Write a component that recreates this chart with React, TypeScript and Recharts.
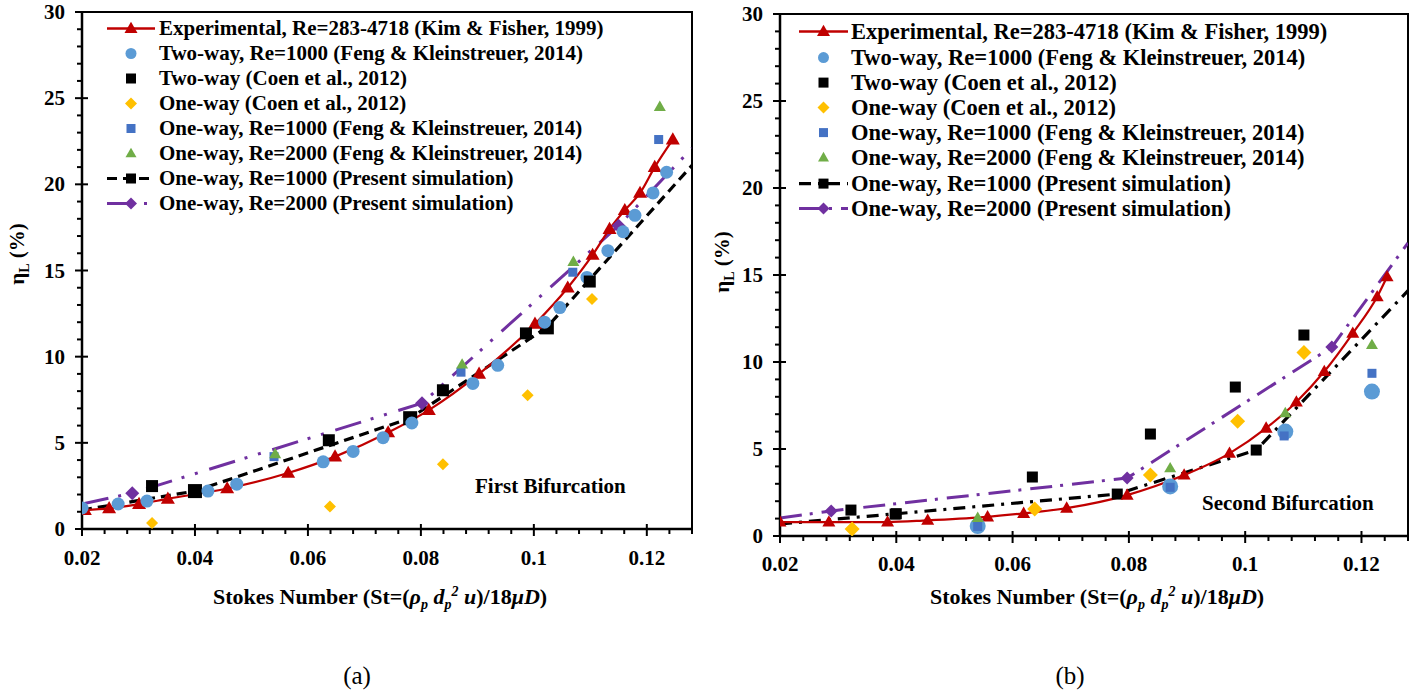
import React from "react";
import { ComposedChart, Line, Scatter, XAxis, YAxis, ReferenceArea } from "recharts";

const FONT = '"Liberation Serif", "Times New Roman", serif';

type Pt = [number, number];

// axes (shared by both panels)
const stDomain: [number, number] = [0.02, 0.128];
const stMajor = [0.02, 0.04, 0.06, 0.08, 0.1, 0.12];
const stLabels = ["0.02", "0.04", "0.06", "0.08", "0.1", "0.12"];
const etaMajor = [0, 5, 10, 15, 20, 25, 30];
const etaLabels = ["0", "5", "10", "15", "20", "25", "30"];
const stTicks = Array.from({ length: 28 }, (_, i) => Math.round((0.02 + i * 0.004) * 1000) / 1000);
const etaTicks = Array.from({ length: 31 }, (_, i) => i);

const legendLabels = [
  "Experimental, Re=283-4718 (Kim & Fisher, 1999)",
  "Two-way, Re=1000 (Feng & Kleinstreuer, 2014)",
  "Two-way (Coen et al., 2012)",
  "One-way (Coen et al., 2012)",
  "One-way, Re=1000 (Feng & Kleinstreuer, 2014)",
  "One-way, Re=2000 (Feng & Kleinstreuer, 2014)",
  "One-way, Re=1000 (Present simulation)",
  "One-way, Re=2000 (Present simulation)",
];

// (a) first bifurcation
const expA: Pt[] = [[0.0205, 1.1], [0.0248, 1.2], [0.0301, 1.45], [0.0352, 1.75], [0.0457, 2.35], [0.0565, 3.25], [0.0648, 4.2], [0.0742, 5.6], [0.0814, 6.9], [0.0903, 9.0], [0.1002, 11.9], [0.106, 14.0], [0.1104, 15.9], [0.1134, 17.4], [0.1161, 18.5], [0.1188, 19.5], [0.1214, 21.0], [0.1246, 22.6]];
const fengTwoWayA: Pt[] = [[0.02, 1.22], [0.0264, 1.45], [0.0315, 1.62], [0.0423, 2.2], [0.0474, 2.6], [0.0627, 3.9], [0.068, 4.5], [0.0733, 5.3], [0.0784, 6.15], [0.0892, 8.45], [0.0936, 9.5], [0.1019, 12.0], [0.1046, 12.85], [0.1094, 14.6], [0.1131, 16.15], [0.1158, 17.25], [0.1179, 18.2], [0.1211, 19.5], [0.1235, 20.7]];
const coenTwoWayA: Pt[] = [[0.0324, 2.49], [0.04, 2.2], [0.0637, 5.15], [0.0839, 8.05], [0.0986, 11.35], [0.1099, 14.36]];
const coenOneWayA: Pt[] = [[0.0324, 0.35], [0.0639, 1.3], [0.0839, 3.76], [0.0989, 7.76], [0.1103, 13.35]];
const fengOne1000A: Pt[] = [[0.054, 4.2], [0.0871, 9.1], [0.1069, 14.9], [0.1221, 22.6]];
const fengOne2000A: Pt[] = [[0.0542, 4.35], [0.0873, 9.55], [0.107, 15.5], [0.1223, 24.5]];
const curve1000A: Pt[] = [[0.02, 1.1], [0.04, 2.2], [0.0781, 6.43], [0.1023, 11.7], [0.128, 21.1]];
const sim1000A: Pt[] = [[0.04, 2.2], [0.0781, 6.43], [0.1023, 11.7]];
const curve2000A: Pt[] = [[0.02, 1.45], [0.0289, 2.08], [0.0802, 7.3], [0.115, 17.6], [0.128, 22.1]];
const sim2000A: Pt[] = [[0.0289, 2.08], [0.0802, 7.3], [0.115, 17.6]];

// (b) second bifurcation
const expB: Pt[] = [[0.02, 0.8], [0.0284, 0.8], [0.0385, 0.8], [0.0454, 0.9], [0.0557, 1.1], [0.0619, 1.3], [0.0693, 1.6], [0.0797, 2.35], [0.0895, 3.5], [0.0973, 4.75], [0.1036, 6.2], [0.1088, 7.7], [0.1136, 9.45], [0.1185, 11.65], [0.1227, 13.75], [0.1244, 14.9]];
const fengTwoWayB: Pt[] = [[0.054, 0.57], [0.0871, 2.85], [0.1069, 6.0], [0.1218, 8.3]];
const coenTwoWayB: Pt[] = [[0.0322, 1.49], [0.0398, 1.26], [0.0634, 3.39], [0.0837, 5.86], [0.0983, 8.56], [0.1101, 11.55]];
const coenOneWayB: Pt[] = [[0.0324, 0.4], [0.0638, 1.55], [0.0837, 3.5], [0.0987, 6.6], [0.1101, 10.55]];
const fengOne1000B: Pt[] = [[0.054, 0.55], [0.0871, 2.8], [0.1067, 5.75], [0.1218, 9.35]];
const fengOne2000B: Pt[] = [[0.054, 1.05], [0.0871, 3.9], [0.1069, 7.07], [0.1218, 10.98]];
const curve1000B: Pt[] = [[0.02, 0.69], [0.04, 1.28], [0.078, 2.41], [0.1019, 4.94], [0.128, 14.1]];
const sim1000B: Pt[] = [[0.04, 1.28], [0.078, 2.41], [0.1019, 4.94]];
const curve2000B: Pt[] = [[0.02, 1.03], [0.0288, 1.44], [0.0797, 3.33], [0.1149, 10.86], [0.128, 16.84]];
const sim2000B: Pt[] = [[0.0288, 1.44], [0.0797, 3.33], [0.1149, 10.86]];

const rows = (pts: Pt[]) => pts.map(([x, y]) => ({ x, y }));

const RED = "#C00000";
const LBLUE = "#5B9BD5";
const YELLOW = "#FFC000";
const DBLUE = "#4472C4";
const GREEN = "#70AD47";
const PURPLE = "#7030A0";

type Kind = "triangle" | "circle" | "square" | "diamond";

function Marker({ kind, cx, cy, size, fill }: { kind: Kind; cx: number; cy: number; size: number; fill: string }) {
  const h = size / 2;
  if (kind === "circle") return <circle cx={cx} cy={cy} r={h} fill={fill} />;
  if (kind === "square") return <rect x={cx - h} y={cy - h} width={size} height={size} fill={fill} />;
  if (kind === "diamond")
    return <polygon points={`${cx},${cy - h} ${cx + h},${cy} ${cx},${cy + h} ${cx - h},${cy}`} fill={fill} />;
  const t = size * 0.87;
  return <polygon points={`${cx},${cy - t * 0.6} ${cx + h},${cy + t * 0.4} ${cx - h},${cy + t * 0.4}`} fill={fill} />;
}

interface Panel {
  left: number;
  width: number;
  height: number;
  margin: { top: number; right: number; bottom: number; left: number };
  labelDy: number;
  exp: Pt[];
  twoWay: Pt[];
  coenTwo: Pt[];
  coenOne: Pt[];
  one1000: Pt[];
  one2000: Pt[];
  curve1000: Pt[];
  sim1000: Pt[];
  curve2000: Pt[];
  sim2000: Pt[];
  sizes: { exp: number; twoWay: number; coenTwo: number; coenOne: number; one1000: number; one2000: number; sim1000: number; sim2000: number };
  dash1000: string;
  dash2000: string;
  legend: { symLeft: number; symW: number; textGap: number; top: number; rowH: number; fontSize: number };
  note: { text: string; left: number; y: number };
}

const panelA: Panel = {
  left: 0,
  width: 720,
  height: 610,
  margin: { top: 12, right: 28, bottom: 51, left: 22 },
  labelDy: 36,
  exp: expA, twoWay: fengTwoWayA, coenTwo: coenTwoWayA, coenOne: coenOneWayA,
  one1000: fengOne1000A, one2000: fengOne2000A,
  curve1000: curve1000A, sim1000: sim1000A, curve2000: curve2000A, sim2000: sim2000A,
  sizes: { exp: 14, twoWay: 13, coenTwo: 12, coenOne: 12, one1000: 9, one2000: 12, sim1000: 14, sim2000: 14 },
  dash1000: "10 6",
  dash2000: "27 10 3 11 3 12",
  legend: { symLeft: 107, symW: 48, textGap: 4, top: 28, rowH: 25, fontSize: 21 },
  note: { text: "First Bifurcation", left: 475, y: 486 },
};

const panelB: Panel = {
  left: 700,
  width: 726,
  height: 610,
  margin: { top: 14, right: 18, bottom: 44, left: 20 },
  labelDy: 35,
  exp: expB, twoWay: fengTwoWayB, coenTwo: coenTwoWayB, coenOne: coenOneWayB,
  one1000: fengOne1000B, one2000: fengOne2000B,
  curve1000: curve1000B, sim1000: sim1000B, curve2000: curve2000B, sim2000: sim2000B,
  sizes: { exp: 13, twoWay: 16, coenTwo: 11, coenOne: 15, one1000: 9, one2000: 12, sim1000: 11, sim2000: 13 },
  dash1000: "12 7 3 7",
  dash2000: "22 8 3 9",
  legend: { symLeft: 99, symW: 49, textGap: 3, top: 32, rowH: 25.2, fontSize: 22.5 },
  note: { text: "Second Bifurcation", left: 502, y: 503 },
};

const tickText = { fontFamily: FONT, fontSize: 21, fontWeight: 700, fill: "#000" };

function XTick(props: any) {
  const { x, y, payload, labelDy } = props;
  const i = stMajor.findIndex((v) => Math.abs(v - payload.value) < 1e-6);
  const major = i >= 0;
  return (
    <g>
      <line x1={x} x2={x} y1={major ? y - 5 : y} y2={y + (major ? 7 : 5)} stroke="#000" strokeWidth={2} />
      {major && (
        <text x={x} y={y + labelDy} textAnchor="middle" {...tickText}>
          {stLabels[i]}
        </text>
      )}
    </g>
  );
}

function YTick(props: any) {
  const { x, y, payload } = props;
  const i = etaMajor.indexOf(payload.value);
  const major = i >= 0;
  return (
    <g>
      <line x1={major ? x - 7 : x - 5} x2={major ? x + 6 : x} y1={y} y2={y} stroke="#000" strokeWidth={2} />
      {major && (
        <text x={x - 17} y={y + 7} textAnchor="end" {...tickText}>
          {etaLabels[i]}
        </text>
      )}
    </g>
  );
}

function scatterShape(kind: Kind, size: number, fill: string) {
  return (p: any) => <Marker kind={kind} cx={p.cx} cy={p.cy} size={size} fill={fill} />;
}

function Chart({ p }: { p: Panel }) {
  const s = p.sizes;
  return (
    <div style={{ position: "absolute", left: p.left, top: 0 }}>
      <ComposedChart width={p.width} height={p.height} margin={p.margin}>
        <XAxis
          type="number"
          dataKey="x"
          domain={stDomain}
          allowDataOverflow
          ticks={stTicks}
          interval={0}
          height={30}
          tickSize={0}
          tickMargin={0}
          tickLine={false}
          axisLine={{ stroke: "#000", strokeWidth: 2.5 }}
          tick={(t: any) => <XTick {...t} labelDy={p.labelDy} />}
        />
        <YAxis
          type="number"
          dataKey="y"
          domain={[0, 30]}
          allowDataOverflow
          ticks={etaTicks}
          interval={0}
          width={60}
          tickSize={0}
          tickMargin={0}
          tickLine={false}
          axisLine={{ stroke: "#000", strokeWidth: 2.5 }}
          tick={(t: any) => <YTick {...t} />}
        />
        <ReferenceArea x1={stDomain[0]} x2={stDomain[1]} y1={0} y2={30} fill="none" stroke="#000" strokeWidth={2} />
        <Line
          data={rows(p.curve1000)}
          dataKey="y"
          type="linear"
          stroke="#000"
          strokeWidth={3.2}
          strokeDasharray={p.dash1000}
          dot={false}
          activeDot={false}
          isAnimationActive={false}
        />
        <Line
          data={rows(p.curve2000)}
          dataKey="y"
          type="linear"
          stroke={PURPLE}
          strokeWidth={3}
          strokeDasharray={p.dash2000}
          dot={false}
          activeDot={false}
          isAnimationActive={false}
        />
        <Scatter data={rows(p.sim1000)} shape={scatterShape("square", s.sim1000, "#000")} isAnimationActive={false} />
        <Scatter data={rows(p.sim2000)} shape={scatterShape("diamond", s.sim2000, PURPLE)} isAnimationActive={false} />
        <Line
          data={rows(p.exp)}
          dataKey="y"
          type="monotone"
          stroke={RED}
          strokeWidth={2.2}
          dot={(d: any) => <Marker key={d.index} kind="triangle" cx={d.cx} cy={d.cy} size={s.exp} fill={RED} />}
          activeDot={false}
          isAnimationActive={false}
        />
        <Scatter data={rows(p.twoWay)} shape={scatterShape("circle", s.twoWay, LBLUE)} isAnimationActive={false} />
        <Scatter data={rows(p.coenTwo)} shape={scatterShape("square", s.coenTwo, "#000")} isAnimationActive={false} />
        <Scatter data={rows(p.coenOne)} shape={scatterShape("diamond", s.coenOne, YELLOW)} isAnimationActive={false} />
        <Scatter data={rows(p.one1000)} shape={scatterShape("square", s.one1000, DBLUE)} isAnimationActive={false} />
        <Scatter data={rows(p.one2000)} shape={scatterShape("triangle", s.one2000, GREEN)} isAnimationActive={false} />
      </ComposedChart>
      <LegendBox p={p} />
      <div
        style={{
          position: "absolute",
          left: p.note.left,
          top: p.note.y - 13,
          height: 26,
          lineHeight: "26px",
          fontSize: 21,
          fontWeight: 700,
          whiteSpace: "nowrap",
        }}
      >
        {p.note.text}
      </div>
    </div>
  );
}

function LegendBox({ p }: { p: Panel }) {
  const L = p.legend;
  const w = L.symW;
  const symbols: { line?: { stroke: string; dash?: string; width: number }; kind?: Kind; fill?: string; size?: number }[] = [
    { line: { stroke: RED, width: 2.5 }, kind: "triangle", fill: RED, size: 13 },
    { kind: "circle", fill: LBLUE, size: 11 },
    { kind: "square", fill: "#000", size: 10 },
    { kind: "diamond", fill: YELLOW, size: 12 },
    { kind: "square", fill: DBLUE, size: 9 },
    { kind: "triangle", fill: GREEN, size: 11 },
    { line: { stroke: "#000", dash: p.dash1000, width: 3.2 }, kind: "square", fill: "#000", size: 10 },
    { line: { stroke: PURPLE, dash: p.dash2000, width: 3 }, kind: "diamond", fill: PURPLE, size: 12 },
  ];
  return (
    <>
      {legendLabels.map((label, i) => {
        const sym = symbols[i];
        const h = L.rowH;
        return (
          <div
            key={label}
            style={{
              position: "absolute",
              left: L.symLeft,
              top: L.top + i * L.rowH - h / 2,
              height: h,
              display: "flex",
              alignItems: "center",
              whiteSpace: "nowrap",
            }}
          >
            <svg width={w} height={h} style={{ display: "block", flex: "none" }}>
              {sym.line && (
                <line x1={0} x2={w} y1={h / 2} y2={h / 2} stroke={sym.line.stroke} strokeWidth={sym.line.width} strokeDasharray={sym.line.dash} />
              )}
              {sym.kind && <Marker kind={sym.kind} cx={w / 2} cy={h / 2} size={sym.size || 10} fill={sym.fill || "#000"} />}
            </svg>
            <span style={{ marginLeft: L.textGap, fontSize: L.fontSize, fontWeight: 700, lineHeight: `${h}px` }}>{label}</span>
          </div>
        );
      })}
    </>
  );
}

function XTitle({ cx }: { cx: number }) {
  return (
    <div
      style={{
        position: "absolute",
        left: cx - 250,
        top: 582,
        width: 500,
        height: 30,
        textAlign: "center",
        fontSize: 22,
        fontWeight: 700,
        lineHeight: "30px",
        whiteSpace: "nowrap",
      }}
    >
      Stokes Number (St=(<i>ρ<sub style={{ fontSize: 14, lineHeight: 0 }}>p</sub> d<sub style={{ fontSize: 14, lineHeight: 0 }}>p</sub><sup style={{ fontSize: 14, lineHeight: 0 }}>2</sup> u</i>)/18<i>μD</i>)
    </div>
  );
}

function YTitle({ cx, cy }: { cx: number; cy: number }) {
  return (
    <div
      style={{
        position: "absolute",
        left: cx - 60,
        top: cy - 13,
        width: 120,
        height: 26,
        lineHeight: "26px",
        textAlign: "center",
        fontSize: 21,
        fontWeight: 700,
        transform: "rotate(-90deg)",
        whiteSpace: "nowrap",
      }}
    >
      η<sub style={{ fontSize: 14, lineHeight: 0 }}>L</sub> (%)
    </div>
  );
}

function Caption({ cx, text }: { cx: number; text: string }) {
  return (
    <div style={{ position: "absolute", left: cx - 40, top: 662, width: 80, textAlign: "center", fontSize: 25, lineHeight: "28px" }}>
      {text}
    </div>
  );
}

export default function App() {
  return (
    <div style={{ position: "absolute", left: 0, top: 0, width: 1426, height: 697, background: "#fff", fontFamily: FONT, color: "#000", overflow: "hidden" }}>
      <Chart p={panelA} />
      <Chart p={panelB} />
      <XTitle cx={380} />
      <XTitle cx={1097} />
      <YTitle cx={17} cy={254} />
      <YTitle cx={722} cy={262} />
      <Caption cx={357} text="(a)" />
      <Caption cx={1070} text="(b)" />
    </div>
  );
}
